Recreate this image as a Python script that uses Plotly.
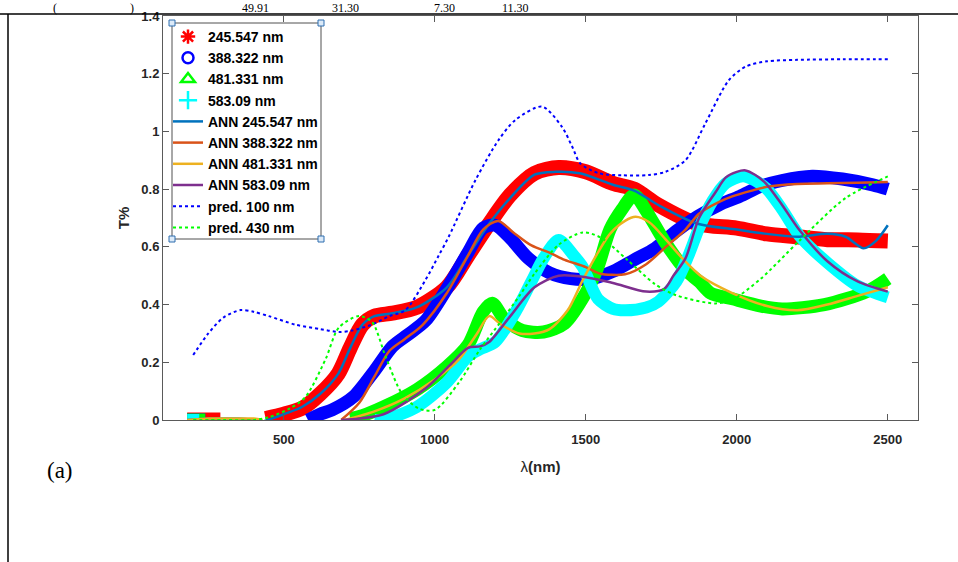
import plotly.graph_objects as go

# ---------------- data ----------------
# measured spectra (thick marker bands)
wl_245 = [180, 200, 220, 240, 260, 290, None, 440, 500, 560, 620, 680, 720, 760, 800, 860, 940, 1040, 1110,
          1180, 1250, 1330, 1410, 1500, 1590, 1660, 1740, 1870, 2000, 2100, 2200, 2300, 2400, 2500]
T_245 = [0, 0, 0, 0, 0, 0, None, 0.005, 0.02, 0.04, 0.09, 0.16, 0.25, 0.33, 0.36, 0.37, 0.39, 0.46, 0.57,
         0.68, 0.78, 0.855, 0.875, 0.86, 0.82, 0.80, 0.745, 0.68, 0.665, 0.645, 0.635, 0.625, 0.624, 0.62]

wl_388 = [180, 200, 220, 240, None, 580, 620, 660, 730, 800, 860, 910, 970, 1040, 1110, 1160, 1200, 1250, 1310,
          1380, 1450, 1520, 1590, 1660, 1730, 1800, 1870, 1940, 2010, 2080, 2150, 2250, 2350, 2450, 2500]
T_388 = [0, 0, 0, 0, None, 0.0, 0.02, 0.035, 0.08, 0.17, 0.255, 0.295, 0.345, 0.455, 0.58, 0.665, 0.675, 0.63,
         0.56, 0.51, 0.49, 0.49, 0.515, 0.555, 0.595, 0.655, 0.705, 0.745, 0.775, 0.81, 0.83, 0.845, 0.835, 0.815, 0.80]

wl_481 = [180, 200, 220, 240, None, 720, 760, 830, 940, 1040, 1110, 1160, 1190, 1230, 1290, 1360, 1430, 1500,
          1540, 1580, 1620, 1660, 1700, 1760, 1830, 1875, 1913, 1985, 2080, 2150, 2290, 2430, 2500]
T_481 = [0, 0, 0, 0, None, 0.005, 0.015, 0.045, 0.105, 0.185, 0.26, 0.375, 0.405, 0.35, 0.31, 0.305, 0.335, 0.44,
         0.53, 0.66, 0.73, 0.78, 0.725, 0.62, 0.52, 0.48, 0.44, 0.42, 0.395, 0.385, 0.40, 0.445, 0.49]

wl_583 = [180, 200, 220, None, 800, 830, 940, 1040, 1110, 1150, 1200, 1270, 1320, 1360, 1410, 1460, 1490, 1540,
          1590, 1630, 1700, 1740, 1800, 1840, 1875, 1920, 1963, 2020, 2060, 2100, 2150, 2210, 2300, 2400, 2500]
T_583 = [0, 0, 0, None, 0.0, 0.0, 0.045, 0.13, 0.22, 0.245, 0.27, 0.38, 0.48, 0.56, 0.624, 0.57, 0.53, 0.42,
         0.385, 0.38, 0.39, 0.41, 0.48, 0.57, 0.665, 0.76, 0.82, 0.845, 0.83, 0.80, 0.73, 0.635, 0.545, 0.465, 0.425]

# ANN fits
wl_ann245 = [180, 250, 300, 350, 400, 430, 460, 500, 560, 620, 680, 720, 760, 800, 860, 940, 1040, 1110, 1180,
             1250, 1330, 1400, 1480, 1590, 1660, 1740, 1870, 2000, 2100, 2200, 2300, 2360, 2420, 2460, 2500]
T_ann245 = [0, 0.005, 0.005, 0.005, 0.0, -0.005, 0.005, 0.02, 0.045, 0.09, 0.16, 0.25, 0.33, 0.36, 0.37, 0.39,
            0.46, 0.57, 0.68, 0.77, 0.85, 0.86, 0.855, 0.815, 0.795, 0.745, 0.68, 0.66, 0.645, 0.635, 0.645,
            0.635, 0.595, 0.62, 0.675]

wl_ann388 = [690, 750, 800, 850, 900, 960, 1040, 1110, 1160, 1210, 1260, 1320, 1380, 1430, 1500, 1545, 1630,
             1700, 1765, 1830, 1875, 1940, 1985, 2050, 2100, 2200, 2300, 2400, 2500]
T_ann388 = [0.0, 0.06, 0.15, 0.24, 0.28, 0.33, 0.44, 0.57, 0.66, 0.69, 0.65, 0.605, 0.58, 0.555, 0.53, 0.508,
            0.505, 0.54, 0.60, 0.66, 0.715, 0.755, 0.775, 0.795, 0.808, 0.818, 0.82, 0.822, 0.825]

wl_ann481 = [180, 250, 300, 350, 400, 430, None, 700, 800, 900, 1000, 1080, 1140, 1180, 1220, 1280, 1330, 1380,
             1440, 1490, 1540, 1580, 1630, 1665, 1710, 1765, 1820, 1880, 1985, 2100, 2200, 2300, 2400, 2500]
T_ann481 = [0, 0.005, 0.005, 0.005, 0.005, 0.0, None, 0.0, 0.03, 0.075, 0.14, 0.21, 0.30, 0.36, 0.33, 0.30,
            0.30, 0.315, 0.38, 0.485, 0.58, 0.645, 0.69, 0.704, 0.685, 0.625, 0.56, 0.50, 0.44, 0.395, 0.38,
            0.40, 0.43, 0.46]

wl_ann583 = [690, 830, 970, 1050, 1110, 1150, 1180, 1250, 1330, 1410, 1500, 1590, 1700, 1760, 1790, 1830, 1875,
             1930, 1963, 2000, 2029, 2060, 2096, 2150, 2206, 2300, 2400, 2500]
T_ann583 = [0.0, 0.02, 0.11, 0.19, 0.25, 0.255, 0.27, 0.36, 0.46, 0.50, 0.495, 0.475, 0.445, 0.455, 0.50, 0.56,
            0.70, 0.79, 0.84, 0.86, 0.865, 0.85, 0.82, 0.745, 0.66, 0.55, 0.48, 0.445]

# predictions
wl_p100 = [200, 250, 300, 357, 400, 450, 540, 620, 682, 725, 790, 850, 902, 969, 1013, 1046, 1134, 1211, 1267,
           1355, 1421, 1455, 1482, 1543, 1620, 1709, 1764, 1830, 1896, 1974, 2030, 2100, 2200, 2350, 2500]
T_p100 = [0.225, 0.30, 0.355, 0.381, 0.375, 0.36, 0.33, 0.315, 0.305, 0.31, 0.33, 0.36, 0.38, 0.485, 0.57, 0.635,
          0.83, 0.97, 1.04, 1.086, 1.016, 0.947, 0.889, 0.855, 0.848, 0.849, 0.86, 0.90, 1.028, 1.178, 1.225,
          1.243, 1.248, 1.25, 1.25]

wl_p430 = [200, 300, 400, 452, 520, 572, 638, 682, 748, 792, 837, 892, 947, 1000, 1080, 1150, 1218, 1280, 1330,
           1410, 1490, 1550, 1635, 1730, 1800, 1930, 1990, 2080, 2206, 2360, 2500]
T_p430 = [0.0, 0.0, 0.0, 0.01, 0.04, 0.08, 0.21, 0.32, 0.36, 0.34, 0.22, 0.09, 0.04, 0.035, 0.13, 0.245, 0.34,
          0.43, 0.507, 0.607, 0.65, 0.632, 0.557, 0.47, 0.432, 0.404, 0.42, 0.49, 0.62, 0.769, 0.844]

x_ticks = [500, 1000, 1500, 2000, 2500]
y_ticks = [0, 0.2, 0.4, 0.6, 0.8, 1.0, 1.2, 1.4]
y_ticktext = ["0", "0.2", "0.4", "0.6", "0.8", "1", "1.2", "1.4"]

# ---------------- layout geometry (pixels) ----------------
W, H = 958, 562
L, R, T, B = 163, 918, 16, 420


def px(X):
    return (X - L) / (R - L)


def py(Y):
    return 1 - (Y - T) / (B - T)


fig = go.Figure()

FONT = "Liberation Sans"

# legend-only entries for measured data
legend_markers = [
    ("245.547 nm", "asterisk-open", "#ff0000", 12),
    ("388.322 nm", "circle-open", "#0000ff", 11),
    ("481.331 nm", "triangle-up-open", "#00ff00", 12),
    ("583.09 nm", "cross-thin-open", "#00ffff", 13),
]
for name, sym, col, sz in legend_markers:
    fig.add_trace(go.Scatter(x=[None], y=[None], mode="markers", name=name,
                             marker=dict(symbol=sym, size=sz, color=col, line=dict(color=col, width=2.5))))

# thick measured bands
bands = [(wl_245, T_245, "#ff0000", 15), (wl_388, T_388, "#0000ff", 13),
         (wl_481, T_481, "#00ff00", 13), (wl_583, T_583, "#00ffff", 12)]
for xs, ys, col, w in bands:
    fig.add_trace(go.Scatter(x=xs, y=ys, mode="lines", showlegend=False, hoverinfo="skip",
                             line=dict(color=col, width=w, shape="spline", smoothing=0.8),
                             connectgaps=False))

anns = [("ANN 245.547 nm", wl_ann245, T_ann245, "#0072BD"),
        ("ANN 388.322 nm", wl_ann388, T_ann388, "#D95319"),
        ("ANN 481.331 nm", wl_ann481, T_ann481, "#EDB120"),
        ("ANN 583.09 nm", wl_ann583, T_ann583, "#7E2F8E")]
for name, xs, ys, col in anns:
    fig.add_trace(go.Scatter(x=xs, y=ys, mode="lines", name=name, connectgaps=False,
                             line=dict(color=col, width=2.5, shape="spline", smoothing=0.8)))

fig.add_trace(go.Scatter(x=wl_p100, y=T_p100, mode="lines", name="pred. 100 nm",
                         line=dict(color="#0000ff", width=2, dash="dot", shape="spline", smoothing=0.8)))
fig.add_trace(go.Scatter(x=wl_p430, y=T_p430, mode="lines", name="pred. 430 nm",
                         line=dict(color="#00ff00", width=2, dash="dot", shape="spline", smoothing=0.8)))

axis_col = "#5a5a5a"
fig.update_xaxes(range=[100, 2600], tickvals=x_ticks, ticks="inside", ticklen=6, tickcolor=axis_col,
                 showline=True, linecolor=axis_col, linewidth=1, mirror="ticks", showgrid=False, zeroline=False,
                 ticklabelstandoff=7, automargin=False,
                 tickfont=dict(family=FONT, size=13, color="#262626", weight="bold"),
                 title=dict(text="λ<b>(nm)</b>", font=dict(family=FONT, size=15, color="#262626"), standoff=15))
fig.update_yaxes(range=[0, 1.4], tickvals=y_ticks, ticktext=y_ticktext, ticks="inside", ticklen=6,
                 tickcolor=axis_col, showline=True, linecolor=axis_col, linewidth=1, mirror="ticks",
                 showgrid=False, zeroline=False, automargin=False,
                 tickfont=dict(family=FONT, size=13, color="#262626", weight="bold"),
                 title=dict(text="T%", font=dict(family=FONT, size=15, color="#262626", weight="bold"),
                            standoff=8))

# legend box and handles drawn as shapes
shapes = [
    dict(type="rect", xref="paper", yref="paper", x0=px(172), x1=px(321), y0=py(239), y1=py(23),
         fillcolor="white", line=dict(color="#505050", width=1), layer="above"),
    dict(type="line", xref="paper", yref="paper", x0=px(0), x1=px(958), y0=py(14), y1=py(14),
         line=dict(color="black", width=1.5)),
    dict(type="line", xref="paper", yref="paper", x0=px(8), x1=px(8), y0=py(14), y1=py(562),
         line=dict(color="black", width=1.5)),
]
for cx, cy in [(172, 23), (321, 23), (172, 239), (321, 239)]:
    shapes.append(dict(type="rect", xref="paper", yref="paper", x0=px(cx - 3), x1=px(cx + 3),
                       y0=py(cy + 3), y1=py(cy - 3), fillcolor="#dceaf8",
                       line=dict(color="#2f6fb0", width=1), layer="above"))

annotations = [
    dict(text="(a)", x=px(60), y=py(470), xref="paper", yref="paper", showarrow=False,
         xanchor="center", yanchor="middle",
         font=dict(family="Liberation Serif", size=23, color="black")),
]
for txt, X in [("(", 55), (")", 132), ("49.91", 255), ("31.30", 345), ("7.30", 444), ("11.30", 515)]:
    annotations.append(dict(text=txt, x=px(X), y=py(7.5), xref="paper", yref="paper", showarrow=False,
                            xanchor="center", yanchor="middle", borderpad=0,
                            font=dict(family="Liberation Serif", size=12, color="black")))

fig.update_layout(
    width=W, height=H, margin=dict(l=L, r=W - R, t=T, b=H - B, autoexpand=False),
    paper_bgcolor="white", plot_bgcolor="white",
    showlegend=True,
    legend=dict(x=px(168), y=py(21), xanchor="left", yanchor="top", bgcolor="rgba(0,0,0,0)",
                borderwidth=0, font=dict(family=FONT, size=14, color="black", weight="bold"),
                itemwidth=30, tracegroupgap=0),
    shapes=shapes, annotations=annotations,
)

fig.write_html("out.html", config={"displayModeBar": False},
               post_script="document.body.style.margin='0';")
